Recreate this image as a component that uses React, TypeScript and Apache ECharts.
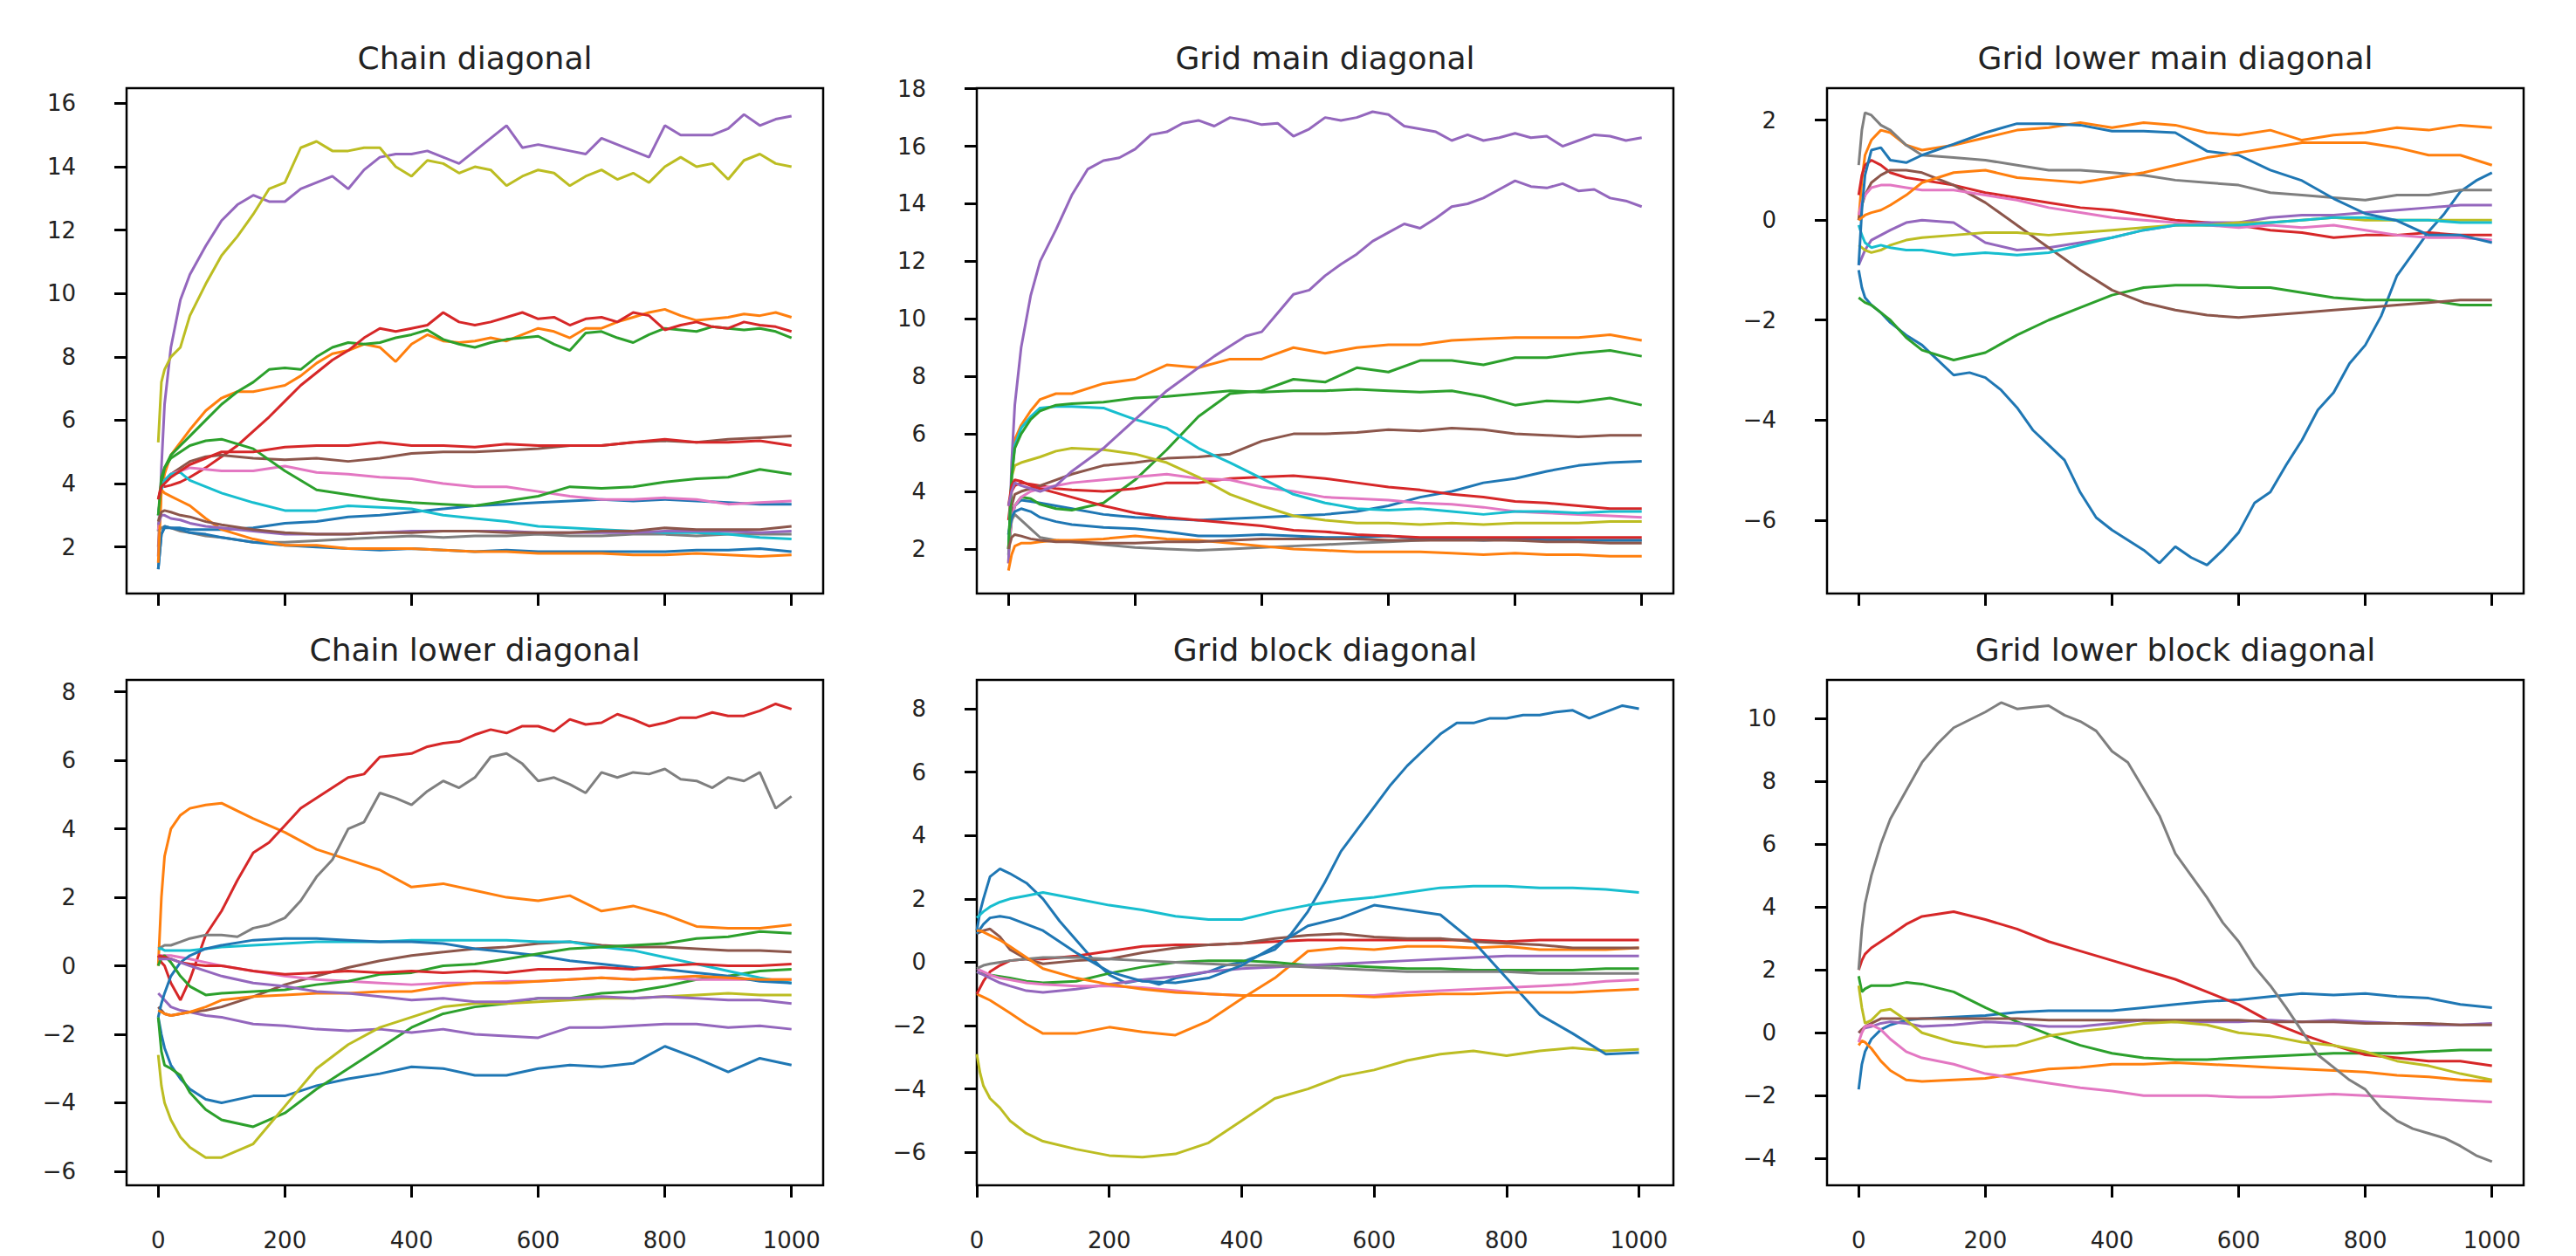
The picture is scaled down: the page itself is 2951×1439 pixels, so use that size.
import React, { useEffect, useRef } from "react";
import * as echarts from "echarts";

// Sample steps (x) shared by most series
const X = [0, 5, 10, 20, 35, 50, 75, 100, 150, 200, 250, 300, 350, 400, 450, 500, 550, 600, 650, 700, 750, 800, 850, 900, 950, 1000];
// Finer sample steps used by the most prominent series
const XF = [0, 5, 10, 20, 35, 50, 75,
  100, 125, 150, 175, 200, 225, 250, 275, 300, 325, 350, 375, 400, 425, 450, 475, 500,
  525, 550, 575, 600, 625, 650, 675, 700, 725, 750, 775, 800, 825, 850, 875, 900, 925, 950, 975, 1000];

const COLORS = ["#1f77b4", "#ff7f0e", "#2ca02c", "#d62728", "#9467bd", "#8c564b", "#e377c2", "#7f7f7f", "#bcbd22", "#17becf"];

const TITLES = ["Chain diagonal", "Grid main diagonal", "Grid lower main diagonal", "Chain lower diagonal", "Grid block diagonal", "Grid lower block diagonal"];

const X_TICKS = [0, 200, 400, 600, 800, 1000];
const Y_TICKS_1 = [2, 4, 6, 8, 10, 12, 14, 16];
const Y_TICKS_2 = [2, 4, 6, 8, 10, 12, 14, 16, 18];
const Y_TICKS_3 = [-6, -4, -2, 0, 2];
const Y_TICKS_4 = [-6, -4, -2, 0, 2, 4, 6, 8];
const Y_TICKS_5 = [-6, -4, -2, 0, 2, 4, 6, 8];
const Y_TICKS_6 = [-4, -2, 0, 2, 4, 6, 8, 10];

// ---- Panel 1: Chain diagonal (16 series, colour-cycle order) ----
const c1Blue1 = [1.3, 2.4, 2.6, 2.6, 2.6, 2.55, 2.55, 2.55, 2.6, 2.75, 2.8, 2.95, 3.0, 3.1, 3.2, 3.3, 3.35, 3.4, 3.45, 3.5, 3.45, 3.5, 3.45, 3.4, 3.35, 3.35];
const c1Orange1 = [2.0, 3.8, 4.3, 4.9, 5.3, 5.7, 6.3,
  6.7, 6.9, 6.9, 7.0, 7.1, 7.4, 7.8, 8.1, 8.2, 8.4, 8.3, 7.85, 8.4, 8.7, 8.5, 8.45, 8.5,
  8.6, 8.5, 8.7, 8.9, 8.8, 8.6, 8.9, 8.9, 9.1, 9.25, 9.4, 9.5, 9.3, 9.15, 9.2, 9.25, 9.35, 9.3, 9.4, 9.25];
const c1Green1 = [2.5, 4.0, 4.5, 4.9, 5.2, 5.5, 6.0,
  6.5, 6.9, 7.2, 7.6, 7.65, 7.6, 8.0, 8.3, 8.45, 8.4, 8.45, 8.6, 8.7, 8.85, 8.55, 8.4, 8.3,
  8.45, 8.55, 8.6, 8.65, 8.4, 8.2, 8.75, 8.8, 8.6, 8.45, 8.7, 8.9, 8.85, 8.8, 8.95, 8.9, 8.85, 8.9, 8.8, 8.6];
const c1Red1 = [3.5, 4.0, 3.9, 3.95, 4.05, 4.2, 4.5,
  4.85, 5.2, 5.65, 6.1, 6.6, 7.1, 7.5, 7.9, 8.2, 8.6, 8.9, 8.8, 8.9, 9.0, 9.4, 9.1, 9.0,
  9.1, 9.25, 9.4, 9.2, 9.25, 9.0, 9.2, 9.25, 9.1, 9.4, 9.3, 8.85, 9.0, 9.1, 8.95, 8.9, 9.1, 9.0, 8.95, 8.8];
const c1Purple1 = [1.7, 4.5, 6.5, 8.3, 9.8, 10.6, 11.5,
  12.3, 12.8, 13.1, 12.9, 12.9, 13.3, 13.5, 13.7, 13.3, 13.9, 14.3, 14.4, 14.4, 14.5, 14.3, 14.1, 14.5,
  14.9, 15.3, 14.6, 14.7, 14.6, 14.5, 14.4, 14.9, 14.7, 14.5, 14.3, 15.3, 15.0, 15.0, 15.0, 15.2, 15.65, 15.3, 15.5, 15.6];
const c1Brown1 = [3.0, 3.9, 4.1, 4.3, 4.5, 4.7, 4.85, 4.9, 4.8, 4.75, 4.8, 4.7, 4.8, 4.95, 5.0, 5.0, 5.05, 5.1, 5.2, 5.2, 5.3, 5.35, 5.3, 5.4, 5.45, 5.5];
const c1Pink = [2.5, 3.8, 4.1, 4.3, 4.4, 4.5, 4.45, 4.4, 4.4, 4.55, 4.35, 4.3, 4.2, 4.15, 4.0, 3.9, 3.9, 3.75, 3.6, 3.5, 3.5, 3.55, 3.5, 3.35, 3.4, 3.45];
const c1Gray = [2.5, 2.6, 2.65, 2.6, 2.5, 2.45, 2.35, 2.3, 2.15, 2.15, 2.2, 2.25, 2.3, 2.35, 2.3, 2.35, 2.35, 2.4, 2.35, 2.35, 2.4, 2.4, 2.35, 2.4, 2.4, 2.4];
const c1Olive = [5.3, 7.2, 7.6, 8.0, 8.3, 9.3, 10.3,
  11.2, 11.8, 12.5, 13.3, 13.5, 14.6, 14.8, 14.5, 14.5, 14.6, 14.6, 14.0, 13.7, 14.2, 14.1, 13.8, 14.0,
  13.9, 13.4, 13.7, 13.9, 13.8, 13.4, 13.7, 13.9, 13.6, 13.8, 13.5, 14.0, 14.3, 14.0, 14.1, 13.6, 14.2, 14.4, 14.1, 14.0];
const c1Cyan = [3.0, 3.8, 4.1, 4.3, 4.35, 4.1, 3.9, 3.7, 3.4, 3.15, 3.15, 3.3, 3.25, 3.2, 3.0, 2.9, 2.8, 2.65, 2.6, 2.55, 2.5, 2.45, 2.45, 2.4, 2.3, 2.25];
const c1Blue2 = [1.3, 2.4, 2.65, 2.6, 2.55, 2.45, 2.4, 2.3, 2.15, 2.05, 2.0, 1.95, 1.9, 1.95, 1.9, 1.85, 1.9, 1.85, 1.85, 1.85, 1.85, 1.85, 1.9, 1.9, 1.95, 1.85];
const c1Orange2 = [1.5, 3.8, 3.7, 3.6, 3.45, 3.3, 2.9, 2.55, 2.25, 2.05, 2.05, 1.95, 1.95, 1.95, 1.9, 1.85, 1.85, 1.8, 1.8, 1.8, 1.75, 1.75, 1.8, 1.75, 1.7, 1.75];
const c1Green2 = [3.0, 4.2, 4.5, 4.8, 5.0, 5.2, 5.35, 5.4, 5.1, 4.4, 3.8, 3.65, 3.5, 3.4, 3.35, 3.3, 3.45, 3.6, 3.9, 3.85, 3.9, 4.05, 4.15, 4.2, 4.45, 4.3];
const c1Red2 = [3.5, 3.9, 4.0, 4.2, 4.4, 4.6, 4.8, 5.0, 5.0, 5.15, 5.2, 5.2, 5.3, 5.2, 5.2, 5.15, 5.25, 5.2, 5.2, 5.2, 5.3, 5.4, 5.3, 5.3, 5.35, 5.2];
const c1Purple2 = [2.7, 3.0, 3.0, 2.9, 2.85, 2.75, 2.65, 2.6, 2.5, 2.4, 2.4, 2.4, 2.45, 2.5, 2.5, 2.5, 2.5, 2.45, 2.45, 2.45, 2.45, 2.5, 2.5, 2.5, 2.45, 2.5];
const c1Brown2 = [2.8, 3.1, 3.15, 3.1, 3.0, 2.95, 2.8, 2.7, 2.55, 2.45, 2.4, 2.4, 2.45, 2.45, 2.5, 2.5, 2.45, 2.45, 2.45, 2.5, 2.5, 2.6, 2.55, 2.55, 2.55, 2.65];

// ---- Panel 2: Grid main diagonal (16 series) ----
const g1Blue1 = [2.5, 3.2, 3.5, 3.7, 3.65, 3.6, 3.5, 3.4, 3.2, 3.1, 3.05, 3.0, 3.05, 3.1, 3.15, 3.2, 3.3, 3.5, 3.8, 4.0, 4.3, 4.45, 4.7, 4.9, 5.0, 5.05];
const g1Orange1 = [1.5, 4.5, 5.8, 6.3, 6.8, 7.2, 7.4, 7.4, 7.75, 7.9, 8.4, 8.3, 8.6, 8.6, 9.0, 8.8, 9.0, 9.1, 9.1, 9.25, 9.3, 9.35, 9.35, 9.35, 9.45, 9.25];
const g1Green1 = [1.8, 3.0, 3.5, 3.8, 3.75, 3.55, 3.4, 3.35, 3.6, 4.4, 5.45, 6.6, 7.4, 7.5, 7.9, 7.8, 8.3, 8.15, 8.55, 8.55, 8.4, 8.65, 8.65, 8.8, 8.9, 8.7];
const g1Red1 = [3.0, 4.0, 4.2, 4.3, 4.25, 4.2, 4.1, 4.05, 4.0, 4.1, 4.3, 4.3, 4.45, 4.5, 4.55, 4.45, 4.3, 4.15, 4.05, 3.9, 3.8, 3.65, 3.6, 3.5, 3.4, 3.4];
const g1Purple1 = [1.5, 5.0, 7.0, 9.0, 10.8, 12.0, 13.1,
  14.3, 15.2, 15.5, 15.6, 15.9, 16.4, 16.5, 16.8, 16.9, 16.7, 17.0, 16.9, 16.75, 16.8, 16.35, 16.6, 17.0,
  16.9, 17.0, 17.2, 17.1, 16.7, 16.6, 16.5, 16.2, 16.4, 16.2, 16.3, 16.45, 16.3, 16.35, 16.0, 16.2, 16.4, 16.35, 16.2, 16.3];
const g1Brown1 = [2.0, 3.5, 3.9, 4.0, 4.1, 4.2, 4.4, 4.6, 4.9, 5.0, 5.15, 5.2, 5.3, 5.75, 6.0, 6.0, 6.05, 6.15, 6.1, 6.2, 6.15, 6.0, 5.95, 5.9, 5.95, 5.95];
const g1Pink = [2.0, 3.0, 3.5, 3.8, 4.0, 4.1, 4.2, 4.3, 4.4, 4.5, 4.6, 4.45, 4.4, 4.15, 4.0, 3.8, 3.75, 3.7, 3.6, 3.55, 3.45, 3.3, 3.25, 3.2, 3.15, 3.1];
const g1Gray = [2.5, 3.0, 3.2, 3.0, 2.7, 2.4, 2.3, 2.25, 2.15, 2.05, 2.0, 1.95, 2.0, 2.05, 2.1, 2.15, 2.2, 2.25, 2.3, 2.35, 2.35, 2.3, 2.35, 2.3, 2.3, 2.3];
const g1Olive = [2.0, 4.5, 4.9, 5.0, 5.1, 5.2, 5.4, 5.5, 5.45, 5.3, 5.0, 4.5, 3.9, 3.5, 3.15, 3.0, 2.9, 2.9, 2.85, 2.9, 2.85, 2.9, 2.9, 2.9, 2.95, 2.95];
const g1Cyan = [2.0, 4.5, 5.6, 6.2, 6.6, 6.9, 6.95, 6.95, 6.9, 6.5, 6.2, 5.5, 5.0, 4.45, 3.9, 3.6, 3.4, 3.35, 3.4, 3.3, 3.2, 3.3, 3.3, 3.25, 3.3, 3.3];
const g1Blue2 = [2.5, 3.1, 3.3, 3.4, 3.3, 3.1, 2.95, 2.85, 2.75, 2.7, 2.6, 2.45, 2.45, 2.5, 2.45, 2.4, 2.4, 2.45, 2.35, 2.35, 2.3, 2.35, 2.3, 2.3, 2.3, 2.3];
const g1Orange2 = [1.25, 1.8, 2.1, 2.2, 2.2, 2.25, 2.3, 2.3, 2.35, 2.45, 2.35, 2.3, 2.2, 2.1, 2.0, 1.95, 1.9, 1.9, 1.9, 1.85, 1.8, 1.85, 1.8, 1.8, 1.75, 1.75];
const g1Green2 = [2.0, 4.5, 5.5, 6.0, 6.5, 6.8, 7.0, 7.05, 7.1, 7.25, 7.3, 7.4, 7.5, 7.45, 7.5, 7.5, 7.55, 7.5, 7.45, 7.5, 7.3, 7.0, 7.15, 7.1, 7.25, 7.0];
const g1Red2 = [3.5, 4.2, 4.4, 4.35, 4.2, 4.1, 3.95, 3.8, 3.5, 3.25, 3.1, 3.0, 2.9, 2.8, 2.65, 2.6, 2.5, 2.45, 2.4, 2.4, 2.4, 2.4, 2.4, 2.4, 2.4, 2.4];
const g1Purple2 = [3.5, 4.0, 4.3, 4.2, 4.1, 4.0, 4.2,
  4.7, 5.1, 5.5, 6.0, 6.5, 7.0, 7.5, 7.9, 8.3, 8.7, 9.05, 9.4, 9.55, 10.2, 10.85, 11.0, 11.5,
  11.9, 12.25, 12.7, 13.0, 13.3, 13.15, 13.5, 13.9, 14.0, 14.2, 14.5, 14.8, 14.6, 14.55, 14.7, 14.45, 14.5, 14.2, 14.1, 13.9];
const g1Brown2 = [2.0, 2.4, 2.5, 2.45, 2.35, 2.3, 2.25, 2.25, 2.2, 2.2, 2.25, 2.25, 2.3, 2.35, 2.35, 2.35, 2.35, 2.3, 2.3, 2.3, 2.3, 2.3, 2.25, 2.25, 2.2, 2.2];

// ---- Panel 3: Grid lower main diagonal (12 series) ----
const gl1Blue1 = [-1.0, -1.35, -1.55, -1.7, -1.85, -2.05, -2.3,
  -2.5, -2.8, -3.1, -3.05, -3.15, -3.4, -3.75, -4.2, -4.5, -4.8, -5.45, -5.95, -6.2, -6.4, -6.6, -6.86, -6.53,
  -6.75, -6.9, -6.6, -6.25, -5.66, -5.44, -4.9, -4.4, -3.8, -3.45, -2.87, -2.5, -1.92, -1.11, -0.67, -0.23, 0.13, 0.57, 0.79, 0.95];
const gl1Orange1 = [0.0, 0.8, 1.3, 1.6, 1.8, 1.75, 1.5, 1.4, 1.5, 1.65, 1.8, 1.85, 1.95, 1.85, 1.95, 1.9, 1.75, 1.7, 1.8, 1.6, 1.7, 1.75, 1.85, 1.8, 1.9, 1.85];
const gl1Green = [-1.55, -1.6, -1.65, -1.7, -1.85, -2.0, -2.35, -2.6, -2.8, -2.65, -2.3, -2.0, -1.75, -1.5, -1.35, -1.3, -1.3, -1.35, -1.35, -1.45, -1.55, -1.6, -1.6, -1.6, -1.7, -1.7];
const gl1Red = [0.5, 0.9, 1.1, 1.2, 1.1, 0.95, 0.85, 0.8, 0.7, 0.55, 0.45, 0.35, 0.25, 0.2, 0.1, 0.0, -0.05, -0.1, -0.2, -0.25, -0.35, -0.3, -0.3, -0.25, -0.3, -0.3];
const gl1Purple = [-0.9, -0.75, -0.6, -0.4, -0.3, -0.2, -0.05, 0.0, -0.05, -0.45, -0.6, -0.55, -0.45, -0.35, -0.2, -0.1, -0.05, -0.05, 0.05, 0.1, 0.1, 0.15, 0.2, 0.25, 0.3, 0.3];
const gl1Brown = [0.0, 0.3, 0.5, 0.75, 0.9, 1.0, 1.0, 0.95, 0.7, 0.35, -0.1, -0.55, -1.0, -1.4, -1.65, -1.8, -1.9, -1.95, -1.9, -1.85, -1.8, -1.75, -1.7, -1.65, -1.6, -1.6];
const gl1Pink = [0.1, 0.35, 0.5, 0.65, 0.7, 0.7, 0.65, 0.6, 0.6, 0.5, 0.4, 0.25, 0.15, 0.05, 0.0, -0.05, -0.1, -0.15, -0.1, -0.15, -0.1, -0.2, -0.3, -0.35, -0.35, -0.4];
const gl1Gray = [1.1, 1.8, 2.15, 2.1, 1.9, 1.8, 1.5, 1.3, 1.25, 1.2, 1.1, 1.0, 1.0, 0.95, 0.9, 0.8, 0.75, 0.7, 0.55, 0.5, 0.45, 0.4, 0.5, 0.5, 0.6, 0.6];
const gl1Olive = [-0.5, -0.55, -0.6, -0.65, -0.6, -0.5, -0.4, -0.35, -0.3, -0.25, -0.25, -0.3, -0.25, -0.2, -0.15, -0.1, -0.1, -0.05, -0.05, 0.0, 0.05, 0.0, 0.0, 0.0, 0.0, 0.0];
const gl1Cyan = [-0.1, -0.3, -0.45, -0.55, -0.5, -0.55, -0.6, -0.6, -0.7, -0.65, -0.7, -0.65, -0.5, -0.35, -0.2, -0.1, -0.1, -0.1, -0.05, 0.0, 0.05, 0.05, 0.0, 0.0, -0.05, -0.05];
const gl1Blue2 = [-0.9, 0.2, 0.9, 1.4, 1.45, 1.2, 1.15, 1.3, 1.52, 1.75, 1.93, 1.93, 1.9, 1.78, 1.78, 1.75, 1.38, 1.3, 1.0, 0.79, 0.43, 0.13, -0.01, -0.3, -0.3, -0.45];
const gl1Orange2 = [0.0, 0.05, 0.1, 0.15, 0.2, 0.3, 0.5, 0.75, 0.95, 1.0, 0.85, 0.8, 0.75, 0.85, 0.95, 1.1, 1.25, 1.35, 1.45, 1.55, 1.55, 1.55, 1.45, 1.3, 1.3, 1.1];

// ---- Panel 4: Chain lower diagonal (15 series) ----
const cl1Blue1 = [-1.5, -2.0, -2.4, -2.9, -3.3, -3.6, -3.9, -4.0, -3.8, -3.8, -3.5, -3.3, -3.15, -2.95, -3.0, -3.2, -3.2, -3.0, -2.9, -2.95, -2.85, -2.35, -2.7, -3.1, -2.7, -2.9];
const cl1Orange1 = [0.0, 2.0, 3.2, 4.0, 4.4, 4.6, 4.7, 4.75, 4.3, 3.9, 3.4, 3.1, 2.8, 2.3, 2.4, 2.2, 2.0, 1.9, 2.05, 1.6, 1.75, 1.5, 1.15, 1.1, 1.1, 1.2];
const cl1Green1 = [-1.5, -2.5, -2.9, -3.0, -3.2, -3.7, -4.2, -4.5, -4.7, -4.3, -3.6, -3.0, -2.4, -1.8, -1.4, -1.2, -1.1, -0.95, -0.95, -0.8, -0.75, -0.6, -0.4, -0.3, -0.15, -0.1];
const cl1Red1 = [0.3, 0.1, 0.0, -0.5, -1.0, -0.4, 0.9,
  1.6, 2.5, 3.3, 3.6, 4.1, 4.6, 4.9, 5.2, 5.5, 5.6, 6.1, 6.15, 6.2, 6.4, 6.5, 6.55, 6.75,
  6.9, 6.8, 7.0, 7.0, 6.85, 7.2, 7.05, 7.1, 7.35, 7.2, 7.0, 7.1, 7.25, 7.25, 7.4, 7.3, 7.3, 7.45, 7.65, 7.5];
const cl1Purple1 = [-0.8, -0.9, -1.0, -1.2, -1.3, -1.35, -1.45, -1.5, -1.7, -1.75, -1.85, -1.9, -1.85, -1.95, -1.85, -2.0, -2.05, -2.1, -1.8, -1.8, -1.75, -1.7, -1.7, -1.8, -1.75, -1.85];
const cl1Brown = [-1.2, -1.3, -1.4, -1.45, -1.4, -1.35, -1.3, -1.2, -0.9, -0.55, -0.3, -0.05, 0.15, 0.3, 0.4, 0.5, 0.55, 0.65, 0.7, 0.6, 0.55, 0.55, 0.5, 0.45, 0.45, 0.4];
const cl1Pink = [0.3, 0.3, 0.3, 0.3, 0.25, 0.2, 0.1, 0.0, -0.15, -0.3, -0.4, -0.45, -0.5, -0.55, -0.5, -0.5, -0.45, -0.45, -0.4, -0.35, -0.4, -0.35, -0.4, -0.4, -0.4, -0.4];
const cl1Gray = [0.5, 0.55, 0.6, 0.6, 0.7, 0.8, 0.9,
  0.9, 0.85, 1.1, 1.2, 1.4, 1.9, 2.6, 3.1, 4.0, 4.2, 5.05, 4.9, 4.7, 5.1, 5.4, 5.2, 5.5,
  6.1, 6.2, 5.9, 5.4, 5.5, 5.3, 5.05, 5.65, 5.5, 5.65, 5.6, 5.75, 5.45, 5.4, 5.2, 5.5, 5.4, 5.65, 4.6, 4.95];
const cl1Olive = [-2.6, -3.5, -4.0, -4.5, -5.0, -5.3, -5.6, -5.6, -5.2, -4.1, -3.0, -2.3, -1.8, -1.5, -1.2, -1.1, -1.1, -1.05, -1.0, -0.95, -0.95, -0.9, -0.85, -0.8, -0.85, -0.85];
const cl1Cyan = [0.5, 0.5, 0.45, 0.45, 0.45, 0.45, 0.5, 0.55, 0.6, 0.65, 0.7, 0.7, 0.7, 0.75, 0.75, 0.75, 0.75, 0.7, 0.7, 0.55, 0.45, 0.25, 0.05, -0.15, -0.35, -0.5];
const cl1Blue2 = [-1.5, -1.1, -0.8, -0.3, 0.1, 0.3, 0.5, 0.6, 0.75, 0.8, 0.8, 0.75, 0.7, 0.7, 0.65, 0.5, 0.4, 0.3, 0.15, 0.05, -0.05, -0.1, -0.2, -0.3, -0.45, -0.5];
const cl1Orange2 = [-1.3, -1.35, -1.4, -1.45, -1.4, -1.35, -1.2, -1.0, -0.9, -0.85, -0.8, -0.8, -0.75, -0.75, -0.6, -0.5, -0.5, -0.45, -0.4, -0.35, -0.4, -0.35, -0.3, -0.35, -0.4, -0.4];
const cl1Green2 = [0.0, 0.25, 0.3, 0.1, -0.3, -0.6, -0.85, -0.8, -0.75, -0.7, -0.55, -0.45, -0.25, -0.2, 0.0, 0.05, 0.2, 0.35, 0.5, 0.55, 0.6, 0.65, 0.8, 0.85, 1.0, 0.95];
const cl1Red2 = [0.3, 0.28, 0.25, 0.2, 0.1, 0.05, 0.0, 0.0, -0.15, -0.25, -0.2, -0.15, -0.2, -0.15, -0.2, -0.15, -0.2, -0.1, -0.1, -0.05, -0.1, 0.0, 0.05, 0.0, 0.0, 0.05];
const cl1Purple2 = [0.2, 0.2, 0.2, 0.2, 0.1, 0.0, -0.15, -0.3, -0.5, -0.6, -0.75, -0.8, -0.9, -1.0, -0.95, -1.05, -1.05, -0.95, -0.95, -0.9, -0.95, -0.9, -0.95, -1.0, -1.0, -1.1];

// ---- Panel 5: Grid block diagonal (12 series) ----
const gb1Blue1 = [1.0, 1.6, 2.0, 2.7, 2.95, 2.8, 2.5,
  2.0, 1.3, 0.7, 0.1, -0.4, -0.65, -0.55, -0.7, -0.5, -0.4, -0.3, -0.1, 0.0, 0.2, 0.4, 0.9, 1.6,
  2.5, 3.5, 4.2, 4.9, 5.6, 6.2, 6.7, 7.2, 7.55, 7.55, 7.7, 7.7, 7.8, 7.8, 7.9, 7.95, 7.7, 7.9, 8.1, 8.0];
const gb1Orange1 = [-1.0, -1.05, -1.1, -1.2, -1.4, -1.6, -1.95, -2.25, -2.25, -2.05, -2.2, -2.3, -1.85, -1.15, -0.5, 0.35, 0.45, 0.4, 0.5, 0.5, 0.45, 0.5, 0.4, 0.4, 0.4, 0.45];
const gb1Green = [-0.3, -0.35, -0.35, -0.4, -0.45, -0.5, -0.6, -0.65, -0.6, -0.35, -0.15, 0.0, 0.05, 0.05, 0.0, -0.1, -0.1, -0.15, -0.2, -0.2, -0.25, -0.25, -0.25, -0.25, -0.2, -0.2];
const gb1Red = [-1.0, -0.8, -0.6, -0.3, -0.1, 0.05, 0.1, 0.1, 0.2, 0.35, 0.5, 0.55, 0.55, 0.6, 0.65, 0.7, 0.7, 0.7, 0.7, 0.7, 0.7, 0.65, 0.7, 0.7, 0.7, 0.7];
const gb1Purple = [-0.3, -0.35, -0.4, -0.5, -0.65, -0.75, -0.9, -0.95, -0.85, -0.7, -0.55, -0.45, -0.3, -0.2, -0.15, -0.1, -0.05, 0.0, 0.05, 0.1, 0.15, 0.2, 0.2, 0.2, 0.2, 0.2];
const gb1Brown = [0.9, 0.95, 1.0, 1.05, 0.8, 0.4, 0.1, -0.05, 0.05, 0.1, 0.3, 0.45, 0.55, 0.6, 0.75, 0.85, 0.9, 0.8, 0.75, 0.75, 0.65, 0.6, 0.55, 0.45, 0.45, 0.45];
const gb1Pink = [-0.2, -0.25, -0.3, -0.4, -0.5, -0.55, -0.65, -0.7, -0.75, -0.75, -0.8, -0.9, -1.0, -1.05, -1.05, -1.05, -1.05, -1.05, -0.95, -0.9, -0.85, -0.8, -0.75, -0.7, -0.6, -0.55];
const gb1Gray = [-0.2, -0.15, -0.1, -0.05, 0.0, 0.05, 0.1, 0.15, 0.15, 0.1, 0.05, 0.0, -0.05, -0.1, -0.1, -0.15, -0.2, -0.25, -0.3, -0.3, -0.3, -0.3, -0.35, -0.35, -0.35, -0.35];
const gb1Olive = [-2.9, -3.5, -3.9, -4.3, -4.6, -5.0, -5.4, -5.65, -5.9, -6.1, -6.15, -6.05, -5.7, -5.0, -4.3, -4.0, -3.6, -3.4, -3.1, -2.9, -2.8, -2.95, -2.8, -2.7, -2.8, -2.75];
const gb1Cyan = [1.4, 1.5, 1.6, 1.75, 1.9, 2.0, 2.1, 2.2, 2.0, 1.8, 1.65, 1.45, 1.35, 1.35, 1.6, 1.8, 1.95, 2.05, 2.2, 2.35, 2.4, 2.4, 2.35, 2.35, 2.3, 2.2];
const gb1Blue2 = [0.9, 1.05, 1.2, 1.4, 1.45, 1.4, 1.2, 1.0, 0.3, -0.3, -0.6, -0.65, -0.5, -0.1, 0.5, 1.15, 1.4, 1.8, 1.65, 1.5, 0.65, -0.5, -1.65, -2.25, -2.9, -2.85];
const gb1Orange2 = [1.0, 1.0, 0.95, 0.85, 0.7, 0.5, 0.15, -0.2, -0.5, -0.7, -0.85, -0.95, -1.0, -1.05, -1.05, -1.05, -1.05, -1.1, -1.05, -1.0, -1.0, -0.95, -0.95, -0.95, -0.9, -0.85];

// ---- Panel 6: Grid lower block diagonal (9 series) ----
const glb1Blue = [-1.8, -1.0, -0.6, -0.2, 0.1, 0.25, 0.4, 0.45, 0.5, 0.55, 0.65, 0.7, 0.7, 0.7, 0.8, 0.9, 1.0, 1.05, 1.15, 1.25, 1.2, 1.25, 1.15, 1.1, 0.9, 0.8];
const glb1Orange = [-0.4, -0.25, -0.3, -0.5, -0.9, -1.2, -1.5, -1.55, -1.5, -1.45, -1.3, -1.15, -1.1, -1.0, -1.0, -0.95, -1.0, -1.05, -1.1, -1.15, -1.2, -1.25, -1.35, -1.4, -1.5, -1.55];
const glb1Green = [1.8, 1.3, 1.4, 1.5, 1.5, 1.5, 1.6, 1.55, 1.3, 0.8, 0.35, -0.05, -0.4, -0.65, -0.8, -0.85, -0.85, -0.8, -0.75, -0.7, -0.65, -0.65, -0.65, -0.6, -0.55, -0.55];
const glb1Red = [2.0, 2.3, 2.5, 2.7, 2.9, 3.1, 3.45, 3.7, 3.85, 3.6, 3.3, 2.9, 2.6, 2.3, 2.0, 1.7, 1.3, 0.9, 0.35, -0.05, -0.4, -0.7, -0.8, -0.9, -0.9, -1.05];
const glb1Purple = [0.0, 0.1, 0.15, 0.2, 0.3, 0.35, 0.3, 0.2, 0.25, 0.35, 0.3, 0.2, 0.2, 0.3, 0.4, 0.35, 0.35, 0.35, 0.4, 0.35, 0.4, 0.35, 0.3, 0.25, 0.25, 0.3];
const glb1Brown = [0.0, 0.1, 0.2, 0.3, 0.45, 0.45, 0.45, 0.45, 0.45, 0.45, 0.45, 0.4, 0.4, 0.4, 0.4, 0.4, 0.4, 0.4, 0.35, 0.35, 0.35, 0.3, 0.3, 0.3, 0.25, 0.25];
const glb1Pink = [-0.3, 0.0, 0.2, 0.25, 0.1, -0.2, -0.6, -0.8, -1.0, -1.3, -1.45, -1.6, -1.75, -1.85, -2.0, -2.0, -2.0, -2.05, -2.05, -2.0, -1.95, -2.0, -2.05, -2.1, -2.15, -2.2];
const glb1Gray = [2.0, 3.3, 4.1, 5.0, 6.0, 6.8, 7.7,
  8.6, 9.2, 9.7, 9.95, 10.2, 10.5, 10.3, 10.35, 10.4, 10.1, 9.9, 9.6, 8.95, 8.6, 7.75, 6.9, 5.7,
  5.0, 4.3, 3.5, 2.9, 2.1, 1.5, 0.8, 0.05, -0.7, -1.1, -1.5, -1.8, -2.4, -2.8, -3.05, -3.2, -3.35, -3.6, -3.9, -4.1];
const glb1Olive = [1.5, 0.8, 0.3, 0.4, 0.7, 0.75, 0.4, 0.0, -0.3, -0.45, -0.4, -0.1, 0.05, 0.15, 0.3, 0.35, 0.25, 0.0, -0.1, -0.3, -0.4, -0.6, -0.9, -1.05, -1.3, -1.5];

const PANEL_SERIES = [
  [c1Blue1, c1Orange1, c1Green1, c1Red1, c1Purple1, c1Brown1, c1Pink, c1Gray, c1Olive, c1Cyan, c1Blue2, c1Orange2, c1Green2, c1Red2, c1Purple2, c1Brown2],
  [g1Blue1, g1Orange1, g1Green1, g1Red1, g1Purple1, g1Brown1, g1Pink, g1Gray, g1Olive, g1Cyan, g1Blue2, g1Orange2, g1Green2, g1Red2, g1Purple2, g1Brown2],
  [gl1Blue1, gl1Orange1, gl1Green, gl1Red, gl1Purple, gl1Brown, gl1Pink, gl1Gray, gl1Olive, gl1Cyan, gl1Blue2, gl1Orange2],
  [cl1Blue1, cl1Orange1, cl1Green1, cl1Red1, cl1Purple1, cl1Brown, cl1Pink, cl1Gray, cl1Olive, cl1Cyan, cl1Blue2, cl1Orange2, cl1Green2, cl1Red2, cl1Purple2],
  [gb1Blue1, gb1Orange1, gb1Green, gb1Red, gb1Purple, gb1Brown, gb1Pink, gb1Gray, gb1Olive, gb1Cyan, gb1Blue2, gb1Orange2],
  [glb1Blue, glb1Orange, glb1Green, glb1Red, glb1Purple, glb1Brown, glb1Pink, glb1Gray, glb1Olive],
];

const Y_TICKS = [Y_TICKS_1, Y_TICKS_2, Y_TICKS_3, Y_TICKS_4, Y_TICKS_5, Y_TICKS_6];

// axis view ranges
const Y_RANGE = [
  [0.53, 16.48],
  [0.45, 18.02],
  [-7.47, 2.64],
  [-6.41, 8.35],
  [-7.04, 8.91],
  [-4.85, 11.22],
];
const X_RANGE = [
  [-50, 1050],
  [-50, 1050],
  [-50, 1050],
  [-50, 1050],
  [0, 1052],
  [-50, 1050],
];

// layout (pixels)
const COL_LEFT = [145, 1119, 2093];
const ROW_TOP = [101, 779];
const PANEL_W = 798;
const PANEL_H = 579;

const FONT = "DejaVu Sans";
const TEXT_COLOR = "#222222";

function fmt(v: number): string {
  return v < 0 ? "\u2212" + Math.abs(v) : String(v);
}

export default function App() {
  const ref = useRef<HTMLDivElement>(null);

  useEffect(() => {
    if (!ref.current) return;
    const chart = echarts.init(ref.current, undefined, { renderer: "svg" });

    const grids: any[] = [];
    const xAxes: any[] = [];
    const yAxes: any[] = [];
    const series: any[] = [];
    const graphics: any[] = [];

    for (let p = 0; p < 6; p++) {
      const col = p % 3;
      const row = Math.floor(p / 3);
      const left = COL_LEFT[col];
      const top = ROW_TOP[row];
      grids.push({
        left,
        top,
        width: PANEL_W,
        height: PANEL_H,
        show: true,
        borderColor: "#000",
        borderWidth: 2.5,
        backgroundColor: "#fff",
        containLabel: false,
      });
      xAxes.push({
        type: "value",
        gridIndex: p,
        position: "bottom",
        min: X_RANGE[p][0],
        max: X_RANGE[p][1],
        axisLine: { show: false, onZero: false },
        splitLine: { show: false },
        axisTick: {
          show: true,
          inside: false,
          length: 14,
          customValues: X_TICKS,
          lineStyle: { color: "#000", width: 3 },
        },
        axisLabel: {
          show: row === 1,
          customValues: X_TICKS,
          margin: 50,
          fontFamily: FONT,
          fontSize: 26,
          color: TEXT_COLOR,
          formatter: (v: number) => fmt(v),
        },
      });
      yAxes.push({
        type: "value",
        gridIndex: p,
        position: "left",
        min: Y_RANGE[p][0],
        max: Y_RANGE[p][1],
        axisLine: { show: false, onZero: false },
        splitLine: { show: false },
        axisTick: {
          show: true,
          inside: false,
          length: 14,
          customValues: Y_TICKS[p],
          lineStyle: { color: "#000", width: 3 },
        },
        axisLabel: {
          show: true,
          customValues: Y_TICKS[p],
          margin: 58,
          fontFamily: FONT,
          fontSize: 26,
          color: TEXT_COLOR,
          formatter: (v: number) => fmt(v),
        },
      });
      PANEL_SERIES[p].forEach((ys, i) => {
        const xs = ys.length === XF.length ? XF : X;
        series.push({
          type: "line",
          xAxisIndex: p,
          yAxisIndex: p,
          data: xs.map((x, k) => [x, ys[k]]),
          showSymbol: false,
          symbol: "none",
          silent: true,
          lineStyle: { width: 3, color: COLORS[i % 10] },
          itemStyle: { color: COLORS[i % 10] },
          z: 2,
        });
      });
      graphics.push({
        type: "text",
        x: left + PANEL_W / 2,
        y: top - 35,
        style: {
          text: TITLES[p],
          font: `36px "${FONT}"`,
          fill: TEXT_COLOR,
          align: "center",
          verticalAlign: "middle",
          textAlign: "center",
          textVerticalAlign: "middle",
        },
      });
    }

    chart.setOption({
      animation: false,
      backgroundColor: "#fff",
      grid: grids,
      xAxis: xAxes,
      yAxis: yAxes,
      series,
      graphic: graphics,
    });

    return () => {
      chart.dispose();
    };
  }, []);

  return (
    <div
      ref={ref}
      style={{ position: "fixed", left: 0, top: 0, width: 2951, height: 1439, background: "#fff" }}
    />
  );
}
